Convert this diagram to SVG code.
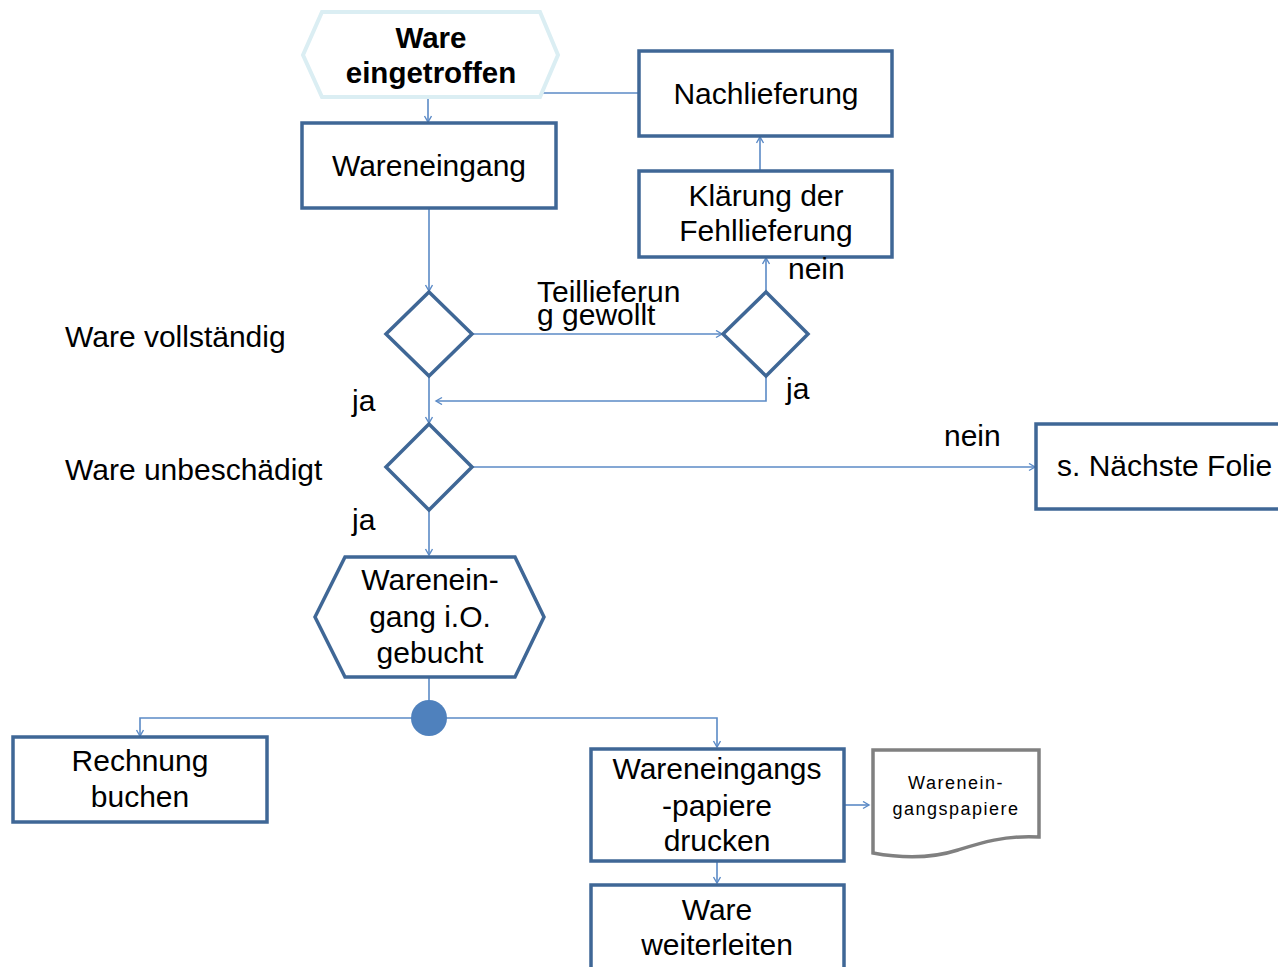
<svg xmlns="http://www.w3.org/2000/svg" width="1278" height="967" viewBox="0 0 1278 967">
<style>
.box{fill:#fff;stroke:#3f6796;stroke-width:3.5}
.start{fill:#fff;stroke:#dbeef3;stroke-width:4}
.doc{fill:#fff;stroke:#808080;stroke-width:3.5}
.c{fill:none;stroke:#5b8ac6;stroke-width:1.6}
.t{font-family:"Liberation Sans",Arial,sans-serif;font-size:30px;fill:#000}
.m{text-anchor:middle}
.b{font-weight:bold;font-size:29.5px}
.s{font-size:18px;letter-spacing:1.5px}
</style>
<defs>
<marker id="a" markerUnits="userSpaceOnUse" markerWidth="10" markerHeight="10" refX="7" refY="4" orient="auto">
<path d="M1,0.5 L7,4 L1,7.5" fill="none" stroke="#5b8ac6" stroke-width="1.4"/>
</marker>
</defs>
<rect width="1278" height="967" fill="#fff"/>
<g id="connectors">
<path class="c" d="M428,97 V122" marker-end="url(#a)"/>
<path class="c" d="M540,93 H638"/>
<path class="c" d="M429,208 V291" marker-end="url(#a)"/>
<path class="c" d="M472,334 H722" marker-end="url(#a)"/>
<path class="c" d="M766,292 V258" marker-end="url(#a)"/>
<path class="c" d="M760,171 V137" marker-end="url(#a)"/>
<path class="c" d="M766,376 V401 H436" marker-end="url(#a)"/>
<path class="c" d="M429,376 V423" marker-end="url(#a)"/>
<path class="c" d="M472,467 H1035" marker-end="url(#a)"/>
<path class="c" d="M429,510 V555" marker-end="url(#a)"/>
<path class="c" d="M429,677 V718"/>
<path class="c" d="M429,718 H140 V736" marker-end="url(#a)"/>
<path class="c" d="M429,718 H717 V747" marker-end="url(#a)"/>
<path class="c" d="M844,805 H869" marker-end="url(#a)"/>
<path class="c" d="M717,861 V883" marker-end="url(#a)"/>
</g>
<g id="start">
<polygon class="start" points="322,12 540,12 558,55 540,97 322,97 303,55"/>
<text class="t m b" x="431" y="48">Ware</text>
<text class="t m b" x="431" y="83">eingetroffen</text>
</g>
<g id="nachlieferung">
<rect class="box" x="639" y="51" width="253" height="85"/>
<text class="t m" x="766" y="104">Nachlieferung</text>
</g>
<g id="wareneingang">
<rect class="box" x="302" y="123" width="254" height="85"/>
<text class="t m" x="429" y="176">Wareneingang</text>
</g>
<g id="klaerung">
<rect class="box" x="639" y="171" width="253" height="86"/>
<text class="t m" x="766" y="206">Klärung der</text>
<text class="t m" x="766" y="241">Fehllieferung</text>
</g>
<g id="d1">
<polygon class="box" points="429,292 472,334 429,376 386,334"/>
</g>
<g id="d2">
<polygon class="box" points="766,292 808,334 766,376 723,334"/>
</g>
<g id="d3">
<polygon class="box" points="429,424 472,467 429,510 386,467"/>
</g>
<g id="folie">
<rect class="box" x="1036" y="424" width="250" height="85"/>
<text class="t" x="1057" y="476">s. Nächste Folie</text>
</g>
<g id="gebucht">
<polygon class="box" points="345,557 515,557 544,617 515,677 345,677 315,617"/>
<text class="t m" x="430" y="590">Warenein-</text>
<text class="t m" x="430" y="627">gang i.O.</text>
<text class="t m" x="430" y="663">gebucht</text>
</g>
<g id="join">
<circle cx="429" cy="718" r="18" fill="#4f81bd"/>
</g>
<g id="rechnung">
<rect class="box" x="13" y="737" width="254" height="85"/>
<text class="t m" x="140" y="771">Rechnung</text>
<text class="t m" x="140" y="807">buchen</text>
</g>
<g id="drucken">
<rect class="box" x="591" y="749" width="253" height="112"/>
<text class="t m" x="717" y="779">Wareneingangs</text>
<text class="t m" x="717" y="816">-papiere</text>
<text class="t m" x="717" y="851">drucken</text>
</g>
<g id="dokument">
<path class="doc" d="M873,750 H1039 V837 C1005,835 980,843 958,850 C930,859 900,858 873,853 Z"/>
<text class="t m s" x="956" y="789">Warenein-</text>
<text class="t m s" x="956" y="815">gangspapiere</text>
</g>
<g id="weiterleiten">
<rect class="box" x="591" y="885" width="253" height="90"/>
<text class="t m" x="717" y="920">Ware</text>
<text class="t m" x="717" y="955">weiterleiten</text>
</g>
<g id="labels">
<text class="t" x="537" y="302">Teillieferun</text>
<text class="t" x="537" y="325">g gewollt</text>
<text class="t" x="788" y="279">nein</text>
<text class="t" x="65" y="347">Ware vollständig</text>
<text class="t" x="352" y="411">ja</text>
<text class="t" x="786" y="399">ja</text>
<text class="t" x="944" y="446">nein</text>
<text class="t" x="65" y="480">Ware unbeschädigt</text>
<text class="t" x="352" y="530">ja</text>
</g>
</svg>
